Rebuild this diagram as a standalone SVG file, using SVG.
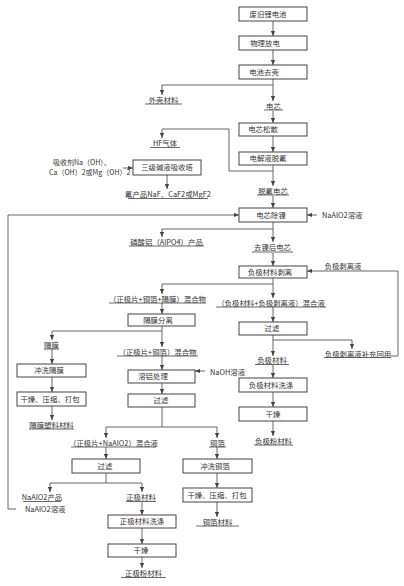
<svg xmlns="http://www.w3.org/2000/svg" width="404" height="586" viewBox="0 0 404 586">
<style>
.b{fill:#fff;stroke:#444;stroke-width:1}
.t{font-family:"Noto Sans CJK SC","Noto Sans",sans-serif;font-size:7.4px;fill:#333;text-anchor:middle}
.l{font-family:"Noto Sans CJK SC","Noto Sans",sans-serif;font-size:7.4px;fill:#333;text-anchor:start}
.s{font-family:"Noto Sans CJK SC","Noto Sans",sans-serif;font-size:7px;fill:#333;text-anchor:start}
.u{stroke:#444;stroke-width:0.8}
.c{fill:none;stroke:#555;stroke-width:0.9}
.a{marker-end:url(#ah)}
</style>
<defs>
<marker id="ah" markerUnits="userSpaceOnUse" markerWidth="5" markerHeight="5" viewBox="0 0 5 5" refX="5" refY="2.5" orient="auto">
<path d="M0,0.4 L5,2.5 L0,4.6 Z" fill="#444"/>
</marker>
</defs>
<rect width="404" height="586" fill="#fff"/>
<g id="connectors">
<path class="c a" d="M273 21V36"/>
<path class="c a" d="M273 50V65"/>
<path class="c a" d="M273 79V101"/>
<path class="c a" d="M273 85H162V95"/>
<path class="c a" d="M273 111V123"/>
<path class="c a" d="M273 136V152"/>
<path class="c a" d="M273 165V186"/>
<path class="c a" d="M273 171H229V129H162V138"/>
<path class="c a" d="M167 175V189"/>
<path class="c a" d="M123 168H133"/>
<path class="c a" d="M273 196V208"/>
<path class="c a" d="M317 215H307"/>
<path class="c a" d="M16 509H8V215H239"/>
<path class="c a" d="M273 222V242"/>
<path class="c a" d="M273 229H162V237"/>
<path class="c a" d="M273 253V266"/>
<path class="c a" d="M391 356H398V271H307"/>
<path class="c a" d="M273 278V298"/>
<path class="c a" d="M273 284H162V294"/>
<path class="c a" d="M162 303V314"/>
<path class="c a" d="M273 307V322"/>
<path class="c a" d="M273 335V356"/>
<path class="c a" d="M273 340H352V349"/>
<path class="c a" d="M273 365V378"/>
<path class="c a" d="M273 392V407"/>
<path class="c a" d="M273 421V436"/>
<path class="c a" d="M162 326V347"/>
<path class="c a" d="M162 331H52V340"/>
<path class="c a" d="M52 349V364"/>
<path class="c a" d="M52 377V392"/>
<path class="c a" d="M52 406V420"/>
<path class="c a" d="M162 356V370"/>
<path class="c a" d="M205 371H195"/>
<path class="c a" d="M162 383V394"/>
<path class="c a" d="M162 407V427H106V438"/>
<path class="c a" d="M162 427H217V438"/>
<path class="c a" d="M106 447V459"/>
<path class="c a" d="M217 447V459"/>
<path class="c a" d="M106 473V483H50V492"/>
<path class="c a" d="M106 483H142V492"/>
<path class="c a" d="M142 502V515"/>
<path class="c a" d="M142 528V544"/>
<path class="c a" d="M142 557V568"/>
<path class="c a" d="M217 473V488"/>
<path class="c a" d="M217 502V517"/>
</g>
<g id="n1"><rect class="b" x="239" y="7" width="68" height="14"/><text class="t" x="268" y="16.7">废旧锂电池</text></g>
<g id="n2"><rect class="b" x="239" y="36" width="68" height="14"/><text class="t" x="265" y="45.7">物理放电</text></g>
<g id="n3"><rect class="b" x="239" y="65" width="68" height="14"/><text class="t" x="264" y="74.7">电池去壳</text></g>
<g id="n4"><rect class="b" x="239" y="123" width="68" height="13"/><text class="t" x="263" y="132.2">电芯松散</text></g>
<g id="n5"><rect class="b" x="239" y="152" width="68" height="13"/><text class="t" x="268" y="161.2">电解液脱氟</text></g>
<g id="n6"><rect class="b" x="133" y="160" width="68" height="15"/><text class="t" x="167" y="170.2">三级碱液吸收塔</text></g>
<g id="n7"><rect class="b" x="239" y="208" width="68" height="14"/><text class="t" x="271" y="217.7">电芯除镍</text></g>
<g id="n8"><rect class="b" x="239" y="266" width="68" height="12"/><text class="t" x="270" y="274.7">负极材料剥离</text></g>
<g id="n9"><rect class="b" x="128" y="314" width="67" height="12"/><text class="t" x="158" y="322.7">隔膜分离</text></g>
<g id="n10"><rect class="b" x="239" y="322" width="68" height="13"/><text class="t" x="272" y="331.2">过滤</text></g>
<g id="n11"><rect class="b" x="17" y="364" width="69" height="13"/><text class="t" x="49" y="373.2">冲洗隔膜</text></g>
<g id="n12"><rect class="b" x="128" y="370" width="67" height="13"/><text class="t" x="153" y="379.2">溶铝处理</text></g>
<g id="n13"><rect class="b" x="239" y="378" width="68" height="14"/><text class="t" x="271" y="387.7">负极材料洗涤</text></g>
<g id="n14"><rect class="b" x="17" y="392" width="69" height="14"/><text class="t" x="50" y="401.7">干燥、压缩、打包</text></g>
<g id="n15"><rect class="b" x="128" y="394" width="67" height="13"/><text class="t" x="161" y="403.2">过滤</text></g>
<g id="n16"><rect class="b" x="239" y="407" width="68" height="14"/><text class="t" x="273" y="416.7">干燥</text></g>
<g id="n17"><rect class="b" x="72" y="459" width="68" height="14"/><text class="t" x="105" y="468.7">过滤</text></g>
<g id="n18"><rect class="b" x="183" y="459" width="69" height="14"/><text class="t" x="215" y="468.7">冲洗铜箔</text></g>
<g id="n19"><rect class="b" x="183" y="488" width="69" height="14"/><text class="t" x="217" y="497.7">干燥、压缩、打包</text></g>
<g id="n20"><rect class="b" x="108" y="515" width="68" height="13"/><text class="t" x="142" y="524.2">正极材料洗涤</text></g>
<g id="n21"><rect class="b" x="108" y="544" width="68" height="13"/><text class="t" x="141" y="553.2">干燥</text></g>
<g id="labels">
<text class="t" x="163.5" y="102.8">外壳材料</text><line class="u" x1="145" y1="104" x2="182" y2="104"/>
<text class="t" x="273.5" y="108.8">电芯</text><line class="u" x1="264" y1="110" x2="283" y2="110"/>
<text class="t" x="165" y="145.8">HF气体</text><line class="u" x1="150" y1="147.5" x2="180" y2="147.5"/>
<text class="s" x="53" y="164.5">吸收剂Na（OH）、</text>
<text class="s" x="49" y="175">Ca（OH）2或Mg（OH）2</text>
<text class="t" x="168" y="197.3">氟产品NaF、CaF2或MgF2</text><line class="u" x1="128" y1="198.5" x2="208" y2="198.5"/>
<text class="t" x="273" y="193.8">脱氟电芯</text><line class="u" x1="257" y1="195" x2="289" y2="195"/>
<text class="l" x="322" y="217.8">NaAlO2溶液</text>
<text class="t" x="166.5" y="244.8">磷酸铝（AlPO4）产品</text><line class="u" x1="129" y1="246" x2="204" y2="246"/>
<text class="t" x="272.5" y="250.3">去镍后电芯</text><line class="u" x1="252" y1="252" x2="293" y2="252"/>
<text class="t" x="343" y="269.3">负极剥离液</text>
<text class="t" x="157.5" y="301.8">（正极片+铜箔+隔膜）混合物</text><line class="u" x1="109" y1="303" x2="206" y2="303"/>
<text class="t" x="271" y="305.8">（负极材料+负极剥离液）混合液</text><line class="u" x1="216" y1="307" x2="326" y2="307"/>
<text class="t" x="51.5" y="347.8">隔膜</text><line class="u" x1="44" y1="349" x2="59" y2="349"/>
<text class="t" x="157.5" y="354.8">（正极片+铜箔）混合物</text><line class="u" x1="117" y1="356" x2="198" y2="356"/>
<text class="t" x="358" y="356.5">负极剥离液补充回用</text><line class="u" x1="324" y1="357.5" x2="391" y2="357.5"/>
<text class="t" x="272" y="363.3">负极材料</text><line class="u" x1="255" y1="364.5" x2="289" y2="364.5"/>
<text class="l" x="210" y="374.8">NaOH溶液</text>
<text class="t" x="51.5" y="427.8">隔膜塑料材料</text><line class="u" x1="29" y1="429" x2="74" y2="429"/>
<text class="t" x="273.5" y="443.8">负极粉材料</text><line class="u" x1="254" y1="445" x2="293" y2="445"/>
<text class="t" x="113.5" y="445.8">（正极片+NaAlO2）混合液</text><line class="u" x1="71" y1="447" x2="156" y2="447"/>
<text class="t" x="217.5" y="445.8">铜箔</text><line class="u" x1="209" y1="447" x2="226" y2="447"/>
<text class="t" x="42" y="499.8">NaAlO2产品</text><line class="u" x1="23" y1="501.5" x2="61" y2="501.5"/>
<text class="l" x="25" y="511.8">NaAlO2溶液</text>
<text class="t" x="141" y="499.8">正极材料</text><line class="u" x1="126" y1="501.5" x2="156" y2="501.5"/>
<text class="t" x="217.5" y="524.8">铜箔材料</text><line class="u" x1="196" y1="526" x2="239" y2="526"/>
<text class="t" x="143.5" y="575.8">正极粉材料</text><line class="u" x1="121" y1="577.5" x2="166" y2="577.5"/>
</g>
</svg>
